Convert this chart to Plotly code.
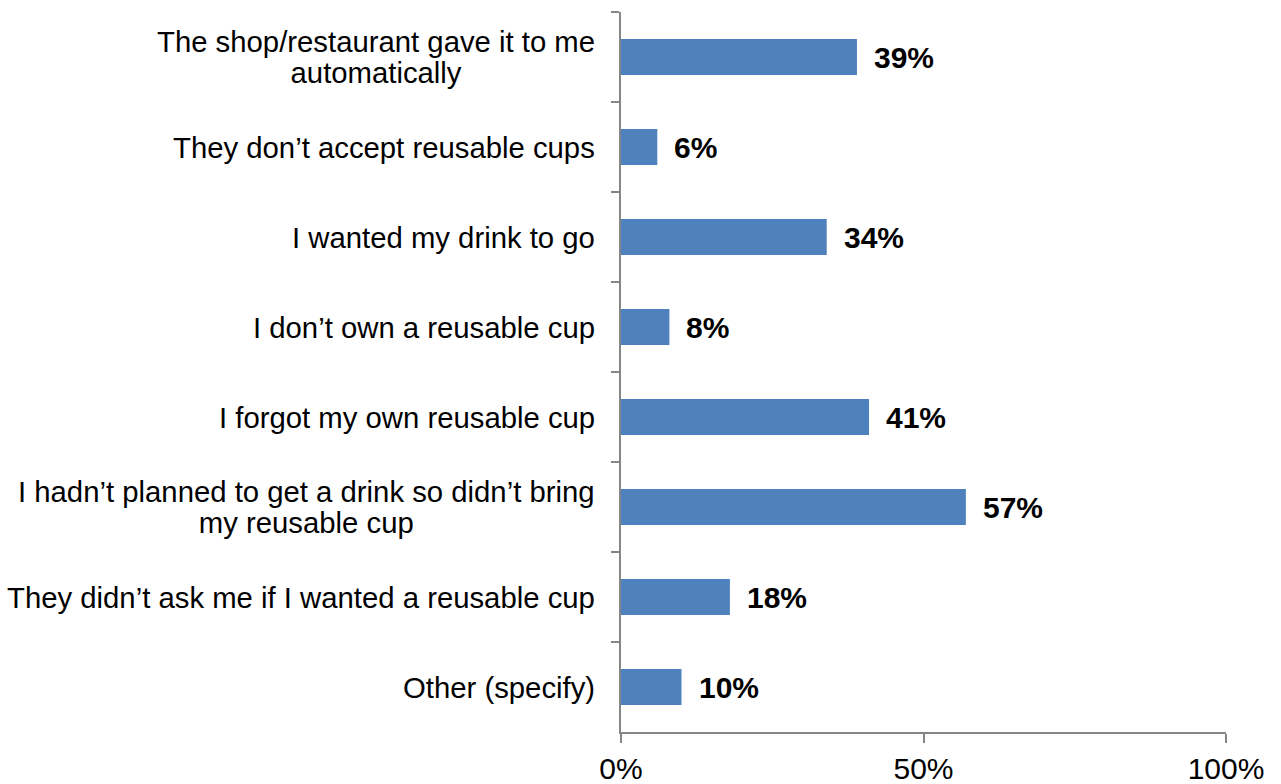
import plotly.graph_objects as go

# Reasons given for taking a single-use cup (share of respondents)
categories = [
    "The shop/restaurant gave it to me<br>automatically",
    "They don’t accept reusable cups",
    "I wanted my drink to go",
    "I don’t own a reusable cup",
    "I forgot my own reusable cup",
    "I hadn’t planned to get a drink so didn’t bring<br>my reusable cup",
    "They didn’t ask me if I wanted a reusable cup",
    "Other (specify)",
]
shares = [0.39, 0.06, 0.34, 0.08, 0.41, 0.57, 0.18, 0.10]
x_ticks = [0, 0.5, 1]
x_tick_labels = ["0%", "50%", "100%"]

BAR = "#4F81BD"
AXIS = "#868686"
FONT = "Liberation Sans, Arial, sans-serif"

fig = go.Figure(
    go.Bar(
        x=shares,
        y=categories,
        orientation="h",
        width=0.4,
        marker=dict(color=BAR, line=dict(width=0)),
        hoverinfo="skip",
    )
)

annotations = []
# Category labels: centred multi-line blocks, right-aligned against the axis.
# The outer font size sets the line spacing; the span sets the glyph size.
for cat in categories:
    lines = cat.split("<br>")
    txt = "<br>".join(f'<span style="font-size:29.3px">{ln}</span>' for ln in lines)
    annotations.append(
        dict(
            x=0, xref="paper", xanchor="right", xshift=-24,
            y=cat, yref="y", yanchor="middle",
            text=txt, align="center", showarrow=False,
            font=dict(family=FONT, size=24, color="#000000"),
        )
    )
# Value labels to the right of each bar
for cat, v in zip(categories, shares):
    annotations.append(
        dict(
            x=v, xref="x", xanchor="left", xshift=15,
            y=cat, yref="y", yanchor="middle",
            text=f"<b>{round(v * 100)}%</b>", showarrow=False,
            font=dict(family=FONT, size=30, color="#000000"),
        )
    )

fig.update_layout(
    width=1281,
    height=784,
    margin=dict(l=621, r=55, t=12, b=52, autoexpand=False),
    paper_bgcolor="white",
    plot_bgcolor="white",
    showlegend=False,
    annotations=annotations,
    font=dict(family=FONT, size=30, color="#000000"),
)
fig.update_xaxes(
    automargin=False,
    range=[0, 1],
    tickvals=x_ticks,
    ticktext=x_tick_labels,
    ticks="outside",
    ticklen=9,
    tickwidth=1.5,
    tickcolor=AXIS,
    showline=True,
    linecolor=AXIS,
    linewidth=1.5,
    showgrid=False,
    zeroline=False,
    tickfont=dict(family=FONT, size=30, color="#000000"),
)
fig.update_yaxes(
    automargin=False,
    type="category",
    categoryorder="array",
    categoryarray=categories,
    autorange="reversed",
    tickson="boundaries",
    ticks="outside",
    ticklen=8,
    tickwidth=1.5,
    tickcolor=AXIS,
    showline=True,
    linecolor=AXIS,
    linewidth=1.5,
    showgrid=False,
    zeroline=False,
    showticklabels=False,
)

fig.write_html("out.html")
